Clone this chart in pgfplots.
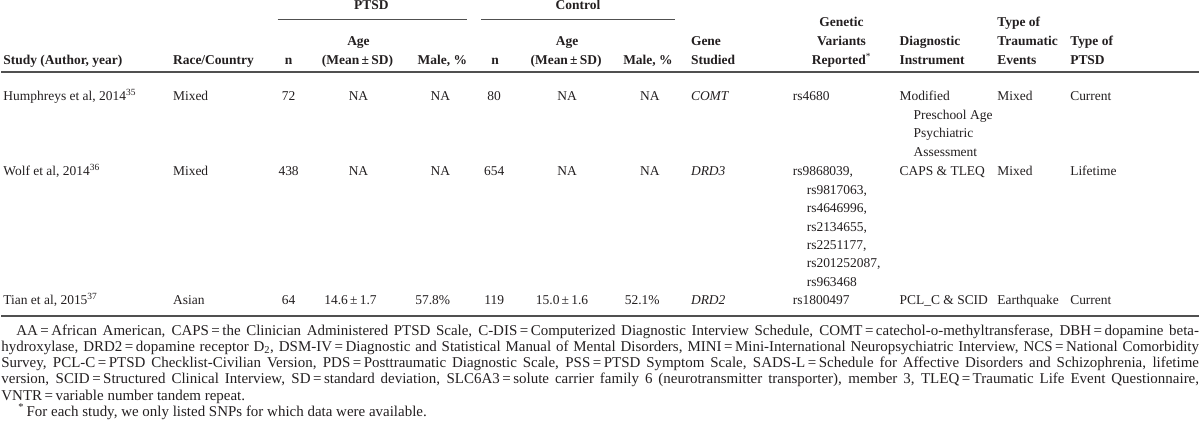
\documentclass[border=0pt]{standalone}
\usepackage{fontspec}
\setmainfont{Liberation Serif}
\usepackage{pgfplots}
\pgfplotsset{compat=1.18}
\definecolor{txt}{HTML}{231F20}
\definecolor{rulec}{HTML}{505050}
\tikzset{
  tb/.style={font=\fontsize{13.5}{16}\selectfont, text=txt, inner sep=0pt},
  L/.style={tb, anchor=base west},
  C/.style={tb, anchor=base},
  R/.style={tb, anchor=base east},
  HL/.style={L, font=\fontsize{13.5}{16}\selectfont\bfseries},
  HC/.style={C, font=\fontsize{13.5}{16}\selectfont\bfseries},
  HR/.style={R, font=\fontsize{13.5}{16}\selectfont\bfseries},
}
\begin{document}
\begin{tikzpicture}
\begin{axis}[scale only axis, width=1200pt, height=426pt,
  xmin=0, xmax=1200, ymin=0, ymax=426, y dir=reverse,
  hide axis, clip=false]
\path (rel axis cs:0,0) rectangle (rel axis cs:1,1);
% rules
\addplot[rulec, line width=1pt] coordinates {(277,19.3) (467,19.3)};
\addplot[rulec, line width=1pt] coordinates {(481,19.3) (675,19.3)};
\addplot[rulec, line width=2.4pt] coordinates {(0,72.2) (1200,72.2)};
\addplot[rulec, line width=2.4pt] coordinates {(0,316.5) (1200,316.5)};
% header
\node[HC] at (axis cs:371,10) {PTSD};
\node[HC] at (axis cs:578,10) {Control};
\node[HL] at (axis cs:2,65) {Study (Author, year)};
\node[HL] at (axis cs:172,65) {Race/Country};
\node[HC] at (axis cs:288,65) {n};
\node[HC] at (axis cs:358,46) {Age};
\node[HC] at (axis cs:357,65) {(Mean\,±\,SD)};
\node[HR] at (axis cs:467,65) {Male, \%};
\node[HC] at (axis cs:495,65) {n};
\node[HC] at (axis cs:567,46) {Age};
\node[HC] at (axis cs:566,65) {(Mean\,±\,SD)};
\node[HR] at (axis cs:673,65) {Male, \%};
\node[HL] at (axis cs:691,46) {Gene};
\node[HL] at (axis cs:691,65) {Studied};
\node[HC] at (axis cs:842,27) {Genetic};
\node[HC] at (axis cs:842,46) {Variants};
\node[HC] at (axis cs:842,65) {Reported\textsuperscript{\mdseries*}};
\node[HL] at (axis cs:900,46) {Diagnostic};
\node[HL] at (axis cs:900,65) {Instrument};
\node[HL] at (axis cs:998,27) {Type of};
\node[HL] at (axis cs:998,46) {Traumatic};
\node[HL] at (axis cs:998,65) {Events};
\node[HL] at (axis cs:1071,46) {Type of};
\node[HL] at (axis cs:1071,65) {PTSD};
% row 1
\node[L] at (axis cs:2,101) {Humphreys et al, 2014\textsuperscript{35}};
\node[L] at (axis cs:172,101) {Mixed};
\node[C] at (axis cs:288,101) {72};
\node[C] at (axis cs:358,101) {NA};
\node[R] at (axis cs:450,101) {NA};
\node[C] at (axis cs:494,101) {80};
\node[C] at (axis cs:567,101) {NA};
\node[R] at (axis cs:660,101) {NA};
\node[L] at (axis cs:691,101) {\itshape COMT};
\node[L] at (axis cs:793,101) {rs4680};
\node[L] at (axis cs:900,101) {Modified};
\node[L] at (axis cs:914,119.5) {Preschool Age};
\node[L] at (axis cs:914,138) {Psychiatric};
\node[L] at (axis cs:914,156.5) {Assessment};
\node[L] at (axis cs:998,101) {Mixed};
\node[L] at (axis cs:1071,101) {Current};
% row 2
\node[L] at (axis cs:2,176) {Wolf et al, 2014\textsuperscript{36}};
\node[L] at (axis cs:172,176) {Mixed};
\node[C] at (axis cs:288,176) {438};
\node[C] at (axis cs:358,176) {NA};
\node[R] at (axis cs:450,176) {NA};
\node[C] at (axis cs:494,176) {654};
\node[C] at (axis cs:567,176) {NA};
\node[R] at (axis cs:660,176) {NA};
\node[L] at (axis cs:691,176) {\itshape DRD3};
\node[L] at (axis cs:793,176) {rs9868039,};
\node[L] at (axis cs:807,194.5) {rs9817063,};
\node[L] at (axis cs:807,213) {rs4646996,};
\node[L] at (axis cs:807,231.5) {rs2134655,};
\node[L] at (axis cs:807,250) {rs2251177,};
\node[L] at (axis cs:807,268.5) {rs201252087,};
\node[L] at (axis cs:807,287) {rs963468};
\node[L] at (axis cs:900,176) {CAPS \& TLEQ};
\node[L] at (axis cs:998,176) {Mixed};
\node[L] at (axis cs:1071,176) {Lifetime};
% row 3
\node[L] at (axis cs:2,305.5) {Tian et al, 2015\textsuperscript{37}};
\node[L] at (axis cs:172,305.5) {Asian};
\node[C] at (axis cs:288,305.5) {64};
\node[C] at (axis cs:350,305.5) {14.6\,±\,1.7};
\node[R] at (axis cs:450,305.5) {57.8\%};
\node[C] at (axis cs:494,305.5) {119};
\node[C] at (axis cs:562,305.5) {15.0\,±\,1.6};
\node[R] at (axis cs:660,305.5) {52.1\%};
\node[L] at (axis cs:691,305.5) {\itshape DRD2};
\node[L] at (axis cs:793,305.5) {rs1800497};
\node[L] at (axis cs:900,305.5) {PCL\_C \& SCID};
\node[L] at (axis cs:998,305.5) {Earthquake};
\node[L] at (axis cs:1071,305.5) {Current};
% footnote
\node[anchor=base west, inner sep=0pt, text=txt] at (axis cs:0,336) {\parbox[t]{1200pt}{\fontsize{15}{16.2}\selectfont
\hspace*{15pt}AA\,=\,African American, CAPS\,=\,the Clinician Administered PTSD Scale, C-DIS\,=\,Computerized Diagnostic Interview Schedule, COMT\,=\,catechol-o-methyltransferase, DBH\,=\,dopamine beta-\linebreak
hydroxylase, DRD2\,=\,dopamine receptor D\textsubscript{2}, DSM-IV\,=\,Diagnostic and Statistical Manual of Mental Disorders, MINI\,=\,Mini-International Neuropsychiatric Interview, NCS\,=\,National Comorbidity\linebreak
Survey, PCL-C\,=\,PTSD Checklist-Civilian Version, PDS\,=\,Posttraumatic Diagnostic Scale, PSS\,=\,PTSD Symptom Scale, SADS-L\,=\,Schedule for Affective Disorders and Schizophrenia, lifetime\linebreak
version, SCID\,=\,Structured Clinical Interview, SD\,=\,standard deviation, SLC6A3\,=\,solute carrier family 6 (neurotransmitter transporter), member 3, TLEQ\,=\,Traumatic Life Event Questionnaire,\linebreak
VNTR\,=\,variable number tandem repeat.\par
\hspace*{17pt}\textsuperscript{*}\,For each study, we only listed SNPs for which data were available.}};
\end{axis}
\end{tikzpicture}
\end{document}
